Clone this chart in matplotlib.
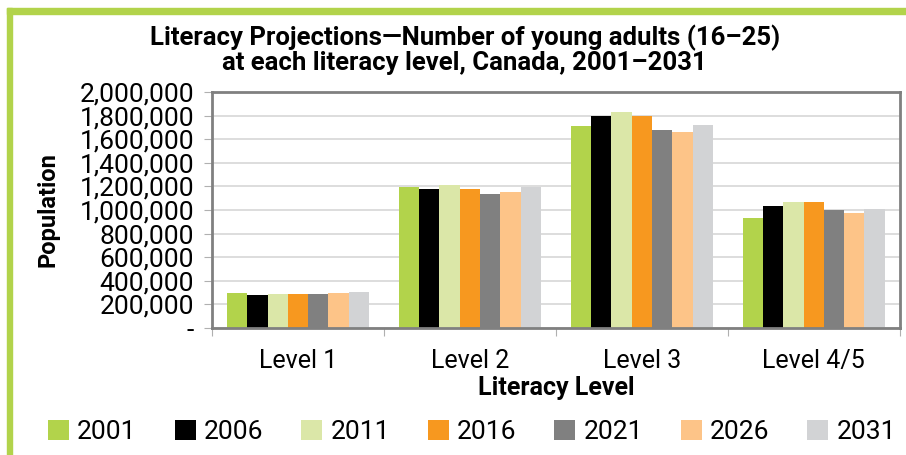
import matplotlib.pyplot as plt
from matplotlib.patches import Rectangle
from matplotlib.ticker import FuncFormatter
import numpy as np

plt.rcParams['font.family'] = ['Roboto', 'DejaVu Sans']

levels = ["Level 1", "Level 2", "Level 3", "Level 4/5"]
years = ["2001", "2006", "2011", "2016", "2021", "2026", "2031"]
colors = ["#B2D34B", "#000000", "#DBE7A8", "#F7981F", "#808080", "#FDC488", "#D2D3D5"]

# population by year, one value per literacy level
pop_2001 = [296000, 1195000, 1712000, 932000]
pop_2006 = [280000, 1178000, 1797000, 1034000]
pop_2011 = [288000, 1212000, 1831000, 1068000]
pop_2016 = [288000, 1178000, 1797000, 1068000]
pop_2021 = [288000, 1136000, 1678000, 1000000]
pop_2026 = [296000, 1153000, 1661000, 975000]
pop_2031 = [305000, 1195000, 1720000, 1008000]
series = [pop_2001, pop_2006, pop_2011, pop_2016, pop_2021, pop_2026, pop_2031]

fig = plt.figure(figsize=(9.06, 4.55), dpi=100)
ax = fig.add_axes([0.234, 0.279, 0.759, 0.519])

x = np.arange(len(levels))
w = 0.118
for i, (yr, vals, c) in enumerate(zip(years, series, colors)):
    ax.bar(x + (i - 3) * w, vals, width=w, color=c, label=yr, zorder=2)

ax.set_xlim(-0.5, 3.5)
ax.set_ylim(0, 2000000)
ax.set_yticks(np.arange(0, 2000001, 200000))
ax.yaxis.set_major_formatter(FuncFormatter(lambda v, p: "-" if v == 0 else f"{int(v):,}"))
ax.grid(axis="y", color="#DADADA", linewidth=1.3, zorder=0)

# boundary ticks, labels in the middle of each group
ax.set_xticks(np.arange(-0.5, 4, 1))
ax.set_xticklabels([])
ax.set_xticks(x, minor=True)
ax.set_xticklabels(levels, minor=True)
ax.tick_params(axis="x", which="minor", length=0, pad=15, labelsize=18)
ax.tick_params(axis="x", which="major", length=6, color="#B0B0B0")
ax.tick_params(axis="y", length=6, color="#B0B0B0", labelsize=19, pad=7)

for s in ax.spines.values():
    s.set_color("#808080")
    s.set_linewidth(2)

ax.set_xlabel("Literacy Level", fontsize=18, fontweight="bold", labelpad=2)
ax.set_ylabel("Population", fontsize=17, fontweight="bold", labelpad=14)

fig.text(0.513, 0.89, "Literacy Projections\u2014Number of young adults (16\u201325)\nat each literacy level, Canada, 2001\u20132031",
         ha="center", va="center", fontsize=18.5, fontweight="bold", linespacing=1.0)

ax.legend(loc="center", bbox_to_anchor=(0.521, 0.05), bbox_transform=fig.transFigure,
          ncol=7, frameon=False, fontsize=19, handlelength=0.8, handleheight=0.8,
          handletextpad=0.3, columnspacing=1.44, borderaxespad=0)

# green frame (top and left edges)
fig.patches.append(Rectangle((7 / 906, 0), 5 / 906, 1 - 8 / 455, transform=fig.transFigure,
                             color="#B2D34B", zorder=0))
fig.patches.append(Rectangle((7 / 906, 1 - 14 / 455), 1, 6 / 455, transform=fig.transFigure,
                             color="#B2D34B", zorder=0))

fig.savefig("out.png", dpi=100)
